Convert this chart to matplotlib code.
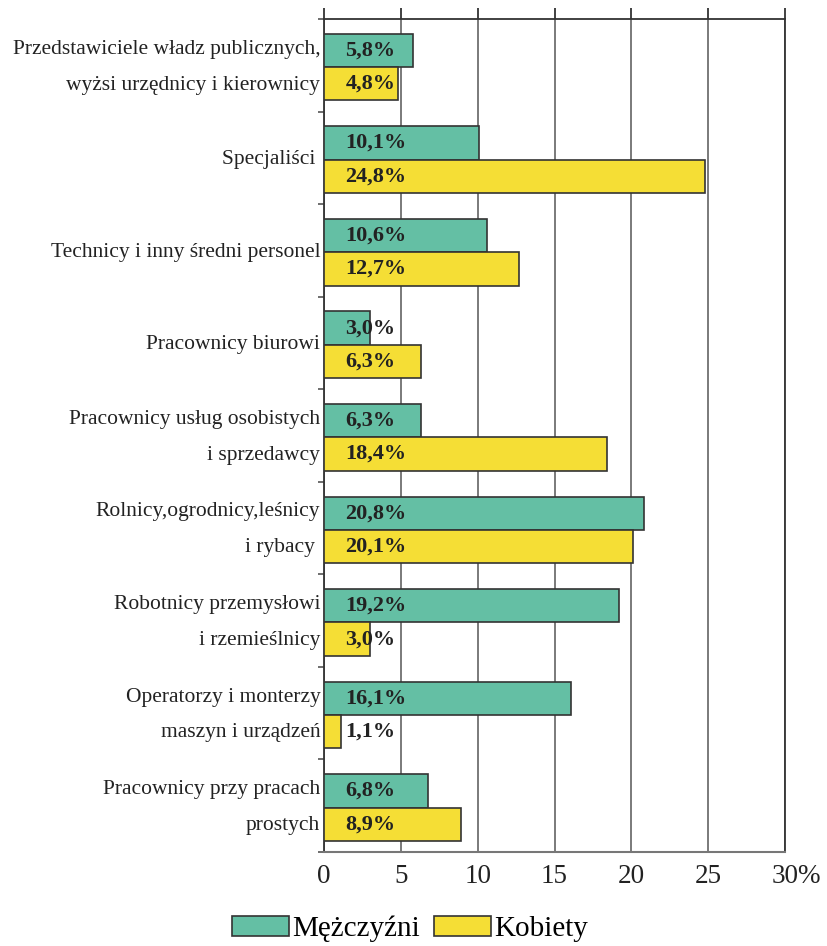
import numpy as np
import matplotlib.pyplot as plt
from matplotlib.ticker import FixedLocator

plt.rcParams['font.family'] = ['Liberation Serif', 'DejaVu Serif']

categories = [
    "Przedstawiciele władz publicznych,\nwyżsi urzędnicy i kierownicy",
    "Specjaliści ",
    "Technicy i inny średni personel",
    "Pracownicy biurowi",
    "Pracownicy usług osobistych\ni sprzedawcy",
    "Rolnicy,ogrodnicy,leśnicy\ni rybacy ",
    "Robotnicy przemysłowi\ni rzemieślnicy",
    "Operatorzy i monterzy\nmaszyn i urządzeń",
    "Pracownicy przy pracach\nprostych",
]
men = [5.8, 10.1, 10.6, 3.0, 6.3, 20.8, 19.2, 16.1, 6.8]
women = [4.8, 24.8, 12.7, 6.3, 18.4, 20.1, 3.0, 1.1, 8.9]
xticks = [0, 5, 10, 15, 20, 25, 30]

green = "#64bfa4"
yellow = "#f5de35"
edge = "#333333"

fig = plt.figure(figsize=(8.28, 9.46), dpi=100)
ax = fig.add_axes([0.3913, 0.0994, 0.5568, 0.8805])

y = np.arange(len(categories))
h = 0.36
ax.barh(y - h / 2 + 0.02, men, height=h, color=green, edgecolor=edge, linewidth=1.2, label="Mężczyźni", zorder=3)
ax.barh(y + h / 2 + 0.02, women, height=h, color=yellow, edgecolor=edge, linewidth=1.2, label="Kobiety", zorder=3)

# value labels, left side of the bars
for i in range(len(categories)):
    ax.text(1.4, y[i] - h / 2 + 0.02, f"{men[i]:.1f}%".replace(".", ","), ha="left", va="center",
            fontsize=16, fontweight="bold", color="#222222", zorder=4)
    ax.text(1.4, y[i] + h / 2 + 0.02, f"{women[i]:.1f}%".replace(".", ","), ha="left", va="center",
            fontsize=16, fontweight="bold", color="#222222", zorder=4)

# category labels
trans = ax.get_yaxis_transform()
for i, lab in enumerate(categories):
    ax.text(-0.008, y[i] + 0.02, lab, transform=trans, ha="right", va="center",
            multialignment="right", linespacing=2.2, fontsize=15.5, color="#222222")

ax.set_xlim(0, 30)
ax.set_ylim(len(categories) - 0.5, -0.5)
ax.set_xticks(xticks)
ax.set_xticklabels([str(v) for v in xticks], fontsize=19.5, color="#222222")
# percent sign after the last tick label
ax.annotate("%", xy=(xticks[-1], 0), xycoords=("data", "axes fraction"), xytext=(9, -9),
            textcoords="offset points", ha="left", va="top", fontsize=19.5, color="#222222")
ax.tick_params(axis="x", which="major", bottom=False, top=True, direction="out",
               length=8, width=1.3, color=edge, pad=1)
ax.set_yticks([])
ax.yaxis.set_minor_locator(FixedLocator(np.arange(-0.5, len(categories), 1.0)))
ax.tick_params(axis="y", which="minor", left=True, length=4, width=1.2, color="#555555")

ax.grid(axis="x", color="#6f6f6f", linewidth=1.3, zorder=0)
ax.set_axisbelow(True)
for s in ["left", "top", "right"]:
    ax.spines[s].set_color(edge)
    ax.spines[s].set_linewidth(1.3)
ax.spines["bottom"].set_color("#777777")
ax.spines["bottom"].set_linewidth(1.5)

fig.legend(loc="lower center", bbox_to_anchor=(0.495, -0.024), ncol=2, frameon=False,
           fontsize=21, handlelength=1.95, handleheight=0.7, handletextpad=0.1,
           columnspacing=0.5)

fig.savefig("out.png", dpi=100)
